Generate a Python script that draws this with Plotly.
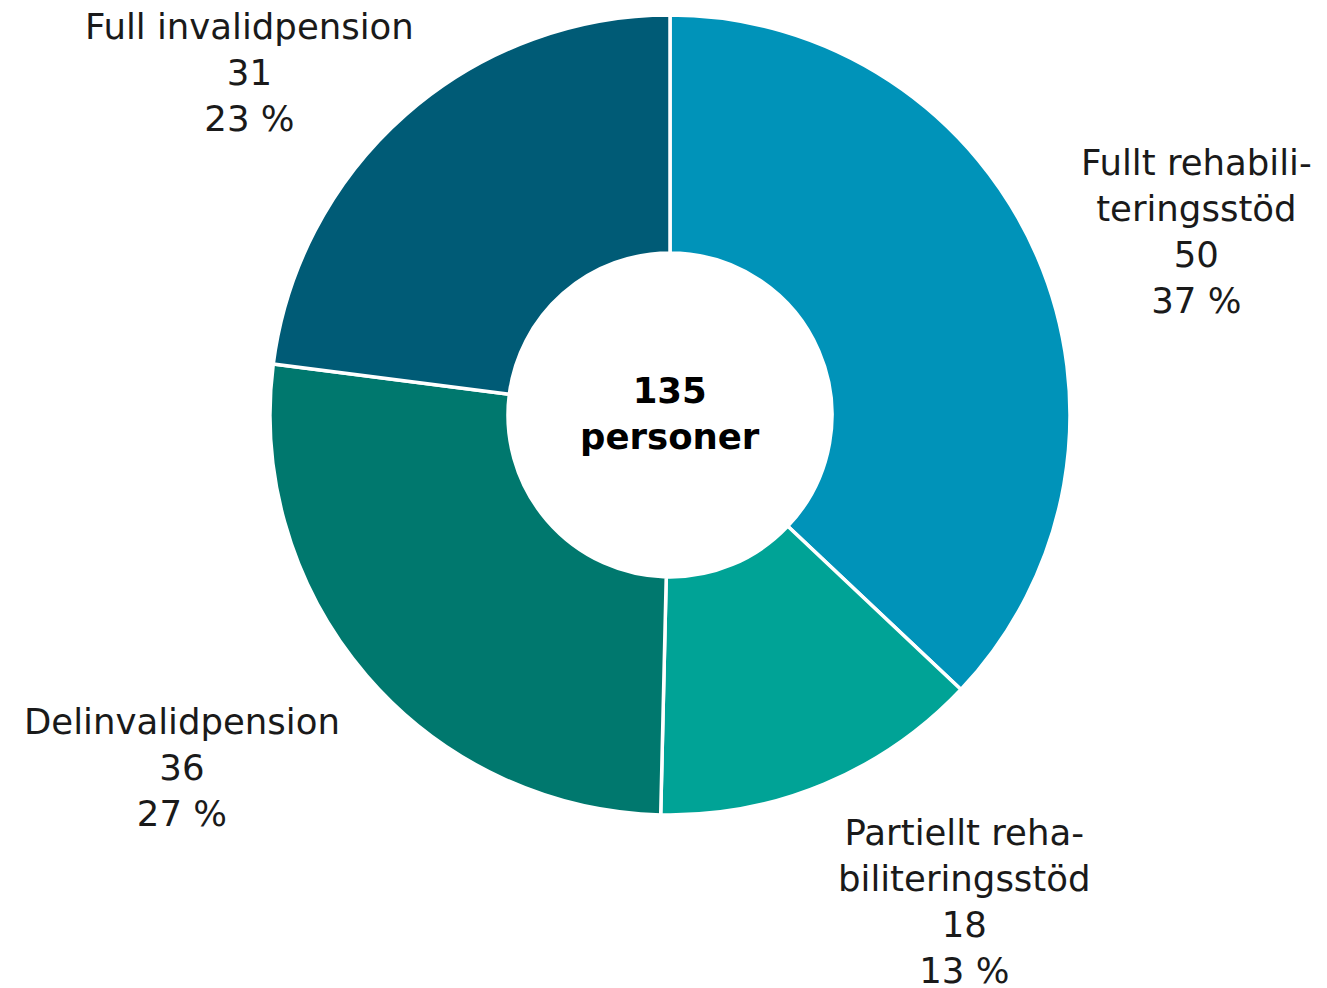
import math
import plotly.graph_objects as go

categories = ["Fullt rehabili-<br>teringsstöd", "Partiellt reha-<br>biliteringsstöd",
              "Delinvalidpension", "Full invalidpension"]
values = [50, 18, 36, 31]
colors = ["#0093B9", "#00A396", "#00786E", "#005B76"]
center_label = "personer"

# layout: fine pixel nudges of the outside labels (dx, dy), per slice
label_nudge = [(12, -12), (0, -4), (0, 2), (31, 50)]

W, H = 1327, 988
OFF = 8  # page body margin in the browser


def fx(px):
    return (px - OFF) / W


def fy(py):
    return 1 - (py - OFF) / H


CX, CY, R = 670, 415, 400
LABEL_R = 432
FONT = "DejaVu Sans"
FS = 35.5

total = sum(values)

fig = go.Figure(go.Pie(
    labels=categories,
    values=values,
    textinfo="none",
    hole=0.405,
    sort=False,
    direction="clockwise",
    rotation=0,
    marker=dict(colors=colors, line=dict(color="white", width=3.5)),
    automargin=False,
    showlegend=False,
    domain=dict(x=[fx(CX - R), fx(CX + R)], y=[fy(CY + R), fy(CY - R)]),
))

cum = 0
for c, v, (nx, ny) in zip(categories, values, label_nudge):
    mid = (cum + v / 2) / total * 2 * math.pi
    cum += v
    dx, dy = math.sin(mid), -math.cos(mid)
    px, py = CX + LABEL_R * dx + nx, CY + LABEL_R * dy + ny
    xanchor = "left" if dx > 0 else "right"
    if abs(dy) < 0.5:
        yanchor = "middle"
    else:
        yanchor = "top" if dy > 0 else "bottom"
    fig.add_annotation(
        text=f"{c}<br>{v}<br>{round(v / total * 100)} %",
        x=fx(px), y=fy(py), xref="paper", yref="paper",
        xanchor=xanchor, yanchor=yanchor, align="center",
        showarrow=False,
        font=dict(family=FONT, size=FS, color="#1a1a1a"),
    )

fig.add_annotation(
    text=f"<b>{total}<br>{center_label}</b>",
    x=fx(CX), y=fy(CY - 2), xref="paper", yref="paper",
    showarrow=False,
    font=dict(family=FONT, size=FS, color="#000000"),
)

fig.update_layout(
    width=W, height=H,
    margin=dict(l=0, r=0, t=0, b=0),
    paper_bgcolor="white",
    plot_bgcolor="white",
)

fig.write_html("out.html")
